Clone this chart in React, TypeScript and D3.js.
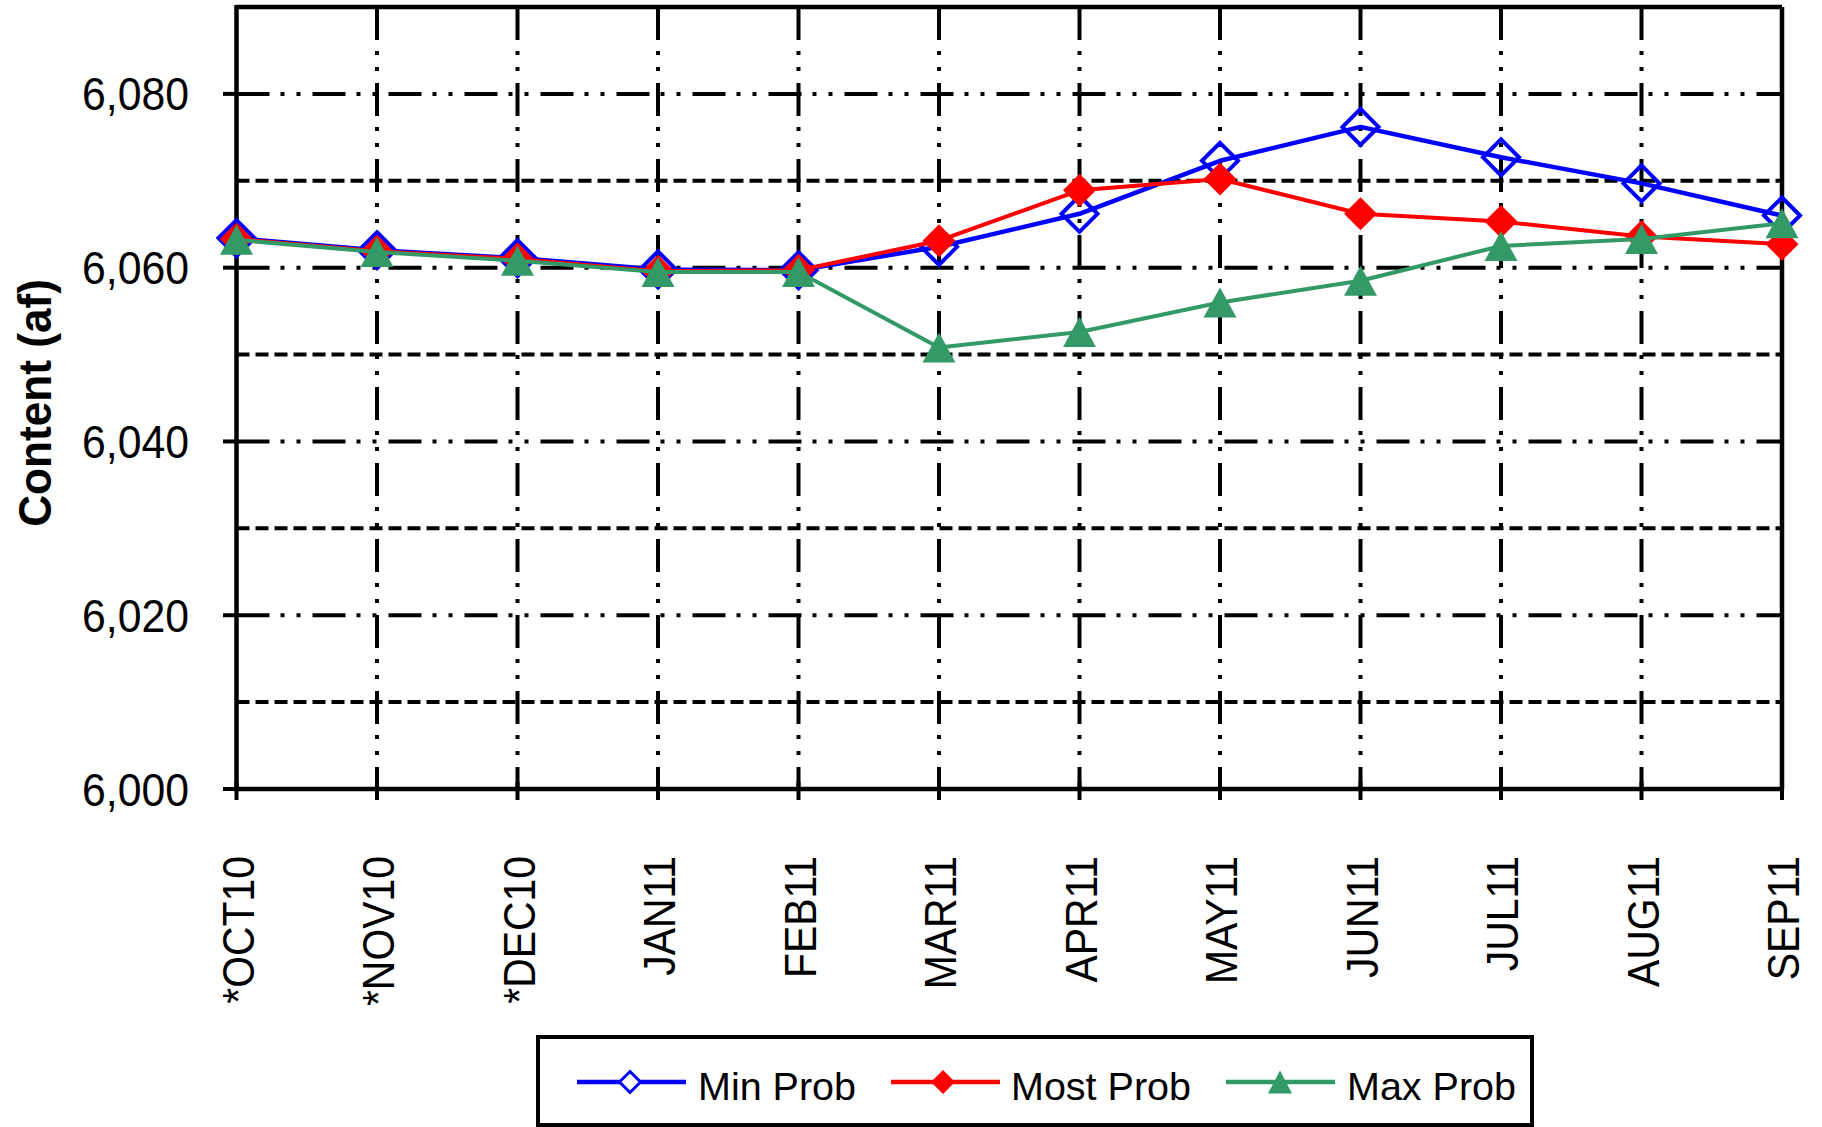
import React from "react";
import * as d3 from "d3";

const categories = ["*OCT10", "*NOV10", "*DEC10", "JAN11", "FEB11", "MAR11", "APR11", "MAY11", "JUN11", "JUL11", "AUG11", "SEP11"];
const minProb = [6063.4, 6062.0, 6061.1, 6059.8, 6059.7, 6062.4, 6066.2, 6072.3, 6076.2, 6072.7, 6069.7, 6066.0];
const mostProb = [6063.3, 6061.9, 6061.0, 6059.6, 6059.7, 6063.1, 6068.9, 6070.2, 6066.2, 6065.3, 6063.6, 6062.7];
const maxProb = [6063.2, 6061.8, 6060.8, 6059.5, 6059.5, 6050.8, 6052.6, 6056.0, 6058.5, 6062.5, 6063.3, 6065.1];
const majorTicks = [6000, 6020, 6040, 6060, 6080];
const minorTicks = [6010, 6030, 6050, 6070];
const legendLabels = ["Min Prob", "Most Prob", "Max Prob"];
const yTitle = "Content (af)";

const W = 1822;
const H = 1127;
const L = 236.5;
const R = 1782;
const T = 7;
const B = 789;
const FONT = "'Liberation Sans', Arial, sans-serif";
const BLUE = "#0000FF";
const RED = "#FF0000";
const GREEN = "#339966";

const diamond = (r: number) => `M0,${-r}L${r},0L0,${r}L${-r},0Z`;
const triangle = (b: number, h: number) => `M0,${-h / 2}L${b / 2},${h / 2}L${-b / 2},${h / 2}Z`;

export default function App() {
  const x = d3.scalePoint<string>().domain(categories).range([L, R]).padding(0);
  const y = d3.scaleLinear().domain([6000, 6090]).range([B, T]);
  const fmt = d3.format(",");
  const lineGen = d3
    .line<number>()
    .x((_, i) => x(categories[i]) as number)
    .y((d) => y(d));

  const dashDotDot = "33,11,4,12,4,12";

  const legendItems = [
    { label: legendLabels[0], color: BLUE, lx: 577, tx: 698, kind: "open" },
    { label: legendLabels[1], color: RED, lx: 891, tx: 1011, kind: "fill" },
    { label: legendLabels[2], color: GREEN, lx: 1226, tx: 1347, kind: "tri" },
  ];

  return (
    <svg
      width={W}
      height={H}
      viewBox={`0 0 ${W} ${H}`}
      style={{ position: "absolute", left: 0, top: 0, background: "#fff" }}
    >
      <rect x={0} y={0} width={W} height={H} fill="#fff" />
      {minorTicks.map((v) => (
        <line key={"mn" + v} x1={L} x2={R} y1={y(v)} y2={y(v)} stroke="#000" strokeWidth={4} strokeDasharray="13,6" />
      ))}
      {majorTicks
        .filter((v) => v !== 6000)
        .map((v) => (
          <line key={"mj" + v} x1={L} x2={R} y1={y(v)} y2={y(v)} stroke="#000" strokeWidth={4} strokeDasharray={dashDotDot} />
        ))}
      {categories.slice(1, -1).map((c) => (
        <line key={"vg" + c} x1={x(c)} x2={x(c)} y1={T} y2={B} stroke="#000" strokeWidth={4} strokeDasharray={dashDotDot} />
      ))}
      <line x1={L} x2={R} y1={T} y2={T} stroke="#000" strokeWidth={4.5} />
      <line x1={R} x2={R} y1={T} y2={B} stroke="#000" strokeWidth={4.5} />
      <line x1={L} x2={L} y1={T - 2} y2={B + 2} stroke="#000" strokeWidth={4.5} />
      <line x1={L - 2} x2={R + 2} y1={B} y2={B} stroke="#000" strokeWidth={4.5} />
      {majorTicks.map((v) => (
        <g key={"yt" + v}>
          <line x1={223} x2={L} y1={y(v)} y2={y(v)} stroke="#000" strokeWidth={4} />
          <text
            transform={`translate(189,${y(v)}) scale(0.93,1)`}
            textAnchor="end"
            dy="0.36em"
            fontFamily={FONT}
            fontSize={46}
            fill="#000"
          >
            {fmt(v)}
          </text>
        </g>
      ))}
      {categories.map((c) => (
        <g key={"xt" + c}>
          <line x1={x(c)} x2={x(c)} y1={B - 7} y2={B + 11} stroke="#000" strokeWidth={4} />
          <text
            transform={`translate(${(x(c) as number) + 17},856) rotate(-90) scale(0.93,1)`}
            textAnchor="end"
            fontFamily={FONT}
            fontSize={44}
            fill="#000"
          >
            {c}
          </text>
        </g>
      ))}
      <text
        transform={`translate(51,403) rotate(-90) scale(0.96,1)`}
        textAnchor="middle"
        fontFamily={FONT}
        fontWeight="bold"
        fontSize={46}
        fill="#000"
      >
        {yTitle}
      </text>
      <path d={lineGen(minProb) || ""} fill="none" stroke={BLUE} strokeWidth={4.5} strokeLinejoin="round" />
      {minProb.map((v, i) => (
        <path
          key={"mk0" + i}
          d={diamond(18)}
          transform={`translate(${x(categories[i])},${y(v)})`}
          fill="none"
          stroke={BLUE}
          strokeWidth={4}
        />
      ))}
      <path d={lineGen(mostProb) || ""} fill="none" stroke={RED} strokeWidth={4} strokeLinejoin="round" />
      {mostProb.map((v, i) => (
        <path key={"mk1" + i} d={diamond(16.5)} transform={`translate(${x(categories[i])},${y(v)})`} fill={RED} />
      ))}
      <path d={lineGen(maxProb) || ""} fill="none" stroke={GREEN} strokeWidth={4} strokeLinejoin="round" />
      {maxProb.map((v, i) => (
        <path key={"mk2" + i} d={triangle(33, 30)} transform={`translate(${x(categories[i])},${y(v)})`} fill={GREEN} />
      ))}
      <rect x={538} y={1037} width={994} height={88} fill="#fff" stroke="#000" strokeWidth={4} />
      {legendItems.map((it) => (
        <g key={it.label}>
          <line x1={it.lx} x2={it.lx + 109} y1={1082} y2={1082} stroke={it.color} strokeWidth={4.5} />
          {it.kind === "open" && (
            <path d={diamond(10.5)} transform={`translate(${it.lx + 53},1082)`} fill="#fff" stroke={it.color} strokeWidth={3} />
          )}
          {it.kind === "fill" && <path d={diamond(12)} transform={`translate(${it.lx + 52},1082)`} fill={it.color} />}
          {it.kind === "tri" && <path d={triangle(24, 23)} transform={`translate(${it.lx + 54},1082)`} fill={it.color} />}
          <text x={it.tx} y={1100} fontFamily={FONT} fontSize={39.5} fill="#000">
            {it.label}
          </text>
        </g>
      ))}
    </svg>
  );
}
